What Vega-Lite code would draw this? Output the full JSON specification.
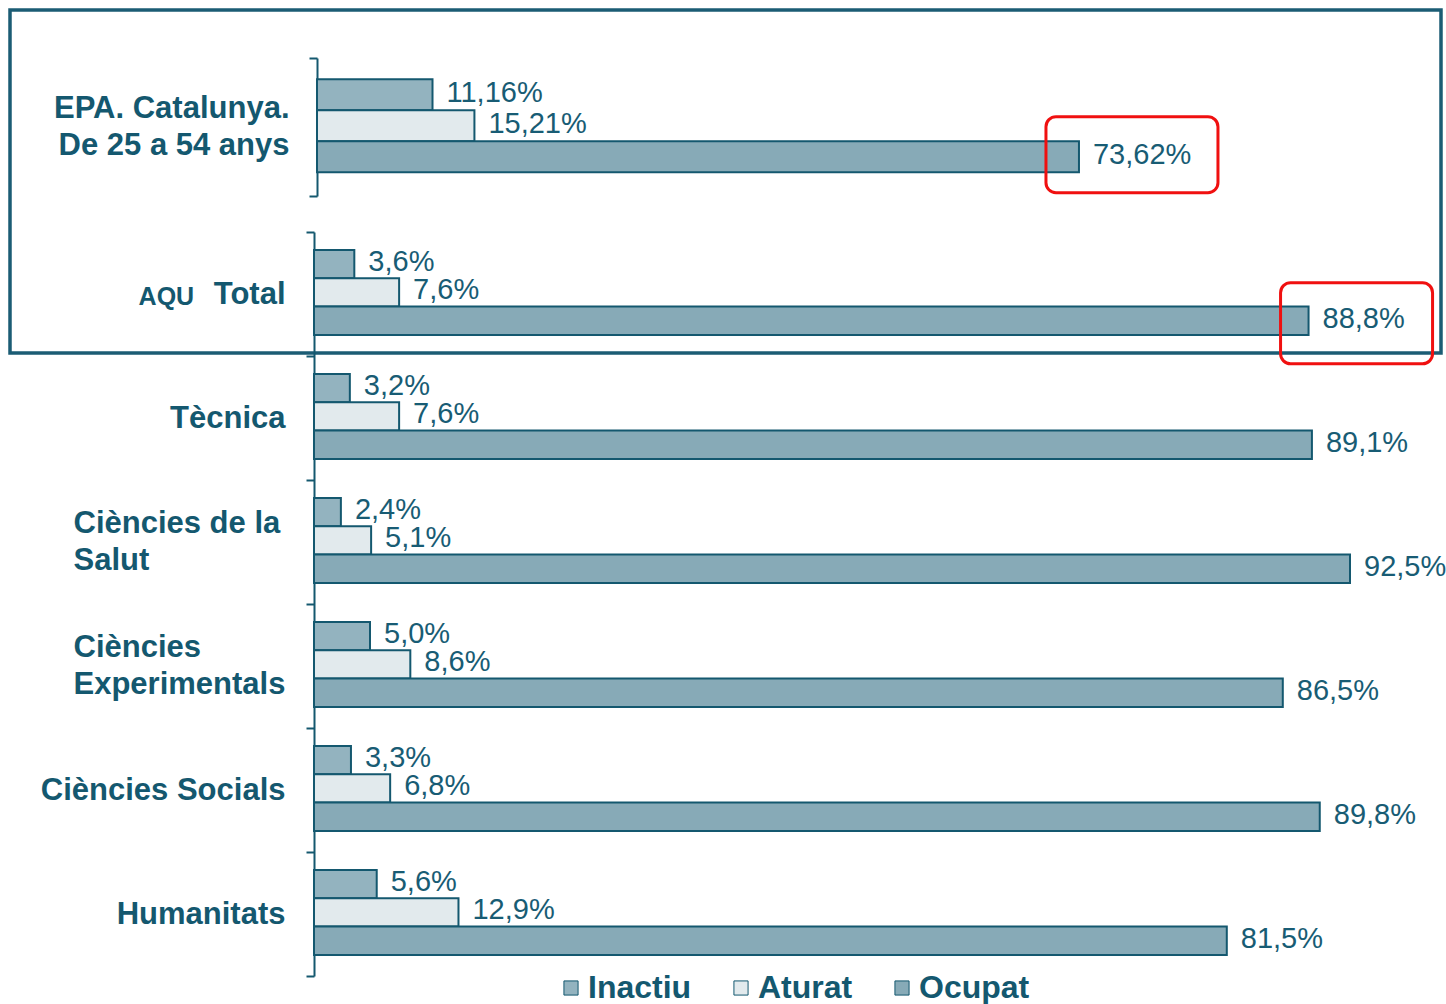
{
  "$schema": "https://vega.github.io/schema/vega-lite/v6.json",
  "autosize": {"type": "none"},
  "padding": {"left": 10, "top": 10, "right": 5, "bottom": 651},
  "width": 1431,
  "height": 343,
  "config": {
    "font": "Liberation Sans",
    "view": {"stroke": "#1b5c74", "strokeWidth": 3.5},
    "axis": {
      "domainColor": "#14586f",
      "domainWidth": 2,
      "tickColor": "#14586f",
      "tickWidth": 2,
      "tickSize": 8,
      "labelFont": "Liberation Sans",
      "labelFontWeight": "bold",
      "labelFontSize": 31,
      "labelColor": "#14586f",
      "labelLineHeight": 37,
      "labelLimit": 400,
      "title": null
    }
  },
  "datasets": {
    "rows": [
      {"cat": "EPA. Catalunya. De 25 a 54 anys", "serie": "Inactiu", "val": 11.16, "label": "11,16%"},
      {"cat": "EPA. Catalunya. De 25 a 54 anys", "serie": "Aturat", "val": 15.21, "label": "15,21%"},
      {"cat": "EPA. Catalunya. De 25 a 54 anys", "serie": "Ocupat", "val": 73.62, "label": "73,62%"},
      {"cat": "AQU Total", "serie": "Inactiu", "val": 3.6, "label": "3,6%"},
      {"cat": "AQU Total", "serie": "Aturat", "val": 7.6, "label": "7,6%"},
      {"cat": "AQU Total", "serie": "Ocupat", "val": 88.8, "label": "88,8%"},
      {"cat": "Tècnica", "serie": "Inactiu", "val": 3.2, "label": "3,2%"},
      {"cat": "Tècnica", "serie": "Aturat", "val": 7.6, "label": "7,6%"},
      {"cat": "Tècnica", "serie": "Ocupat", "val": 89.1, "label": "89,1%"},
      {"cat": "Ciències de la Salut", "serie": "Inactiu", "val": 2.4, "label": "2,4%"},
      {"cat": "Ciències de la Salut", "serie": "Aturat", "val": 5.1, "label": "5,1%"},
      {"cat": "Ciències de la Salut", "serie": "Ocupat", "val": 92.5, "label": "92,5%"},
      {"cat": "Ciències Experimentals", "serie": "Inactiu", "val": 5.0, "label": "5,0%"},
      {"cat": "Ciències Experimentals", "serie": "Aturat", "val": 8.6, "label": "8,6%"},
      {"cat": "Ciències Experimentals", "serie": "Ocupat", "val": 86.5, "label": "86,5%"},
      {"cat": "Ciències Socials", "serie": "Inactiu", "val": 3.3, "label": "3,3%"},
      {"cat": "Ciències Socials", "serie": "Aturat", "val": 6.8, "label": "6,8%"},
      {"cat": "Ciències Socials", "serie": "Ocupat", "val": 89.8, "label": "89,8%"},
      {"cat": "Humanitats", "serie": "Inactiu", "val": 5.6, "label": "5,6%"},
      {"cat": "Humanitats", "serie": "Aturat", "val": 12.9, "label": "12,9%"},
      {"cat": "Humanitats", "serie": "Ocupat", "val": 81.5, "label": "81,5%"}
    ]
  },
  "data": {"name": "rows"},
  "layer": [
    {
      "transform": [{"filter": "datum.cat == 'EPA. Catalunya. De 25 a 54 anys'"}],
      "encoding": {
        "y": {
          "field": "cat", "type": "nominal",
          "scale": {"range": [48, 186], "paddingInner": 0, "paddingOuter": 0},
          "axis": {
            "orient": "left", "offset": -307, "tickBand": "extent", "labelPadding": 20, "labelOffset": -19,
            "labelExpr": "datum.value == 'EPA. Catalunya. De 25 a 54 anys' ? ['EPA. Catalunya.', 'De 25 a 54 anys'] : ''"
          }
        },
        "yOffset": {"field": "serie", "type": "nominal", "sort": ["Inactiu", "Aturat", "Ocupat"], "scale": {"paddingInner": 0, "paddingOuter": 0.726, "align": 0.47}},
        "x": {"field": "val", "type": "quantitative", "scale": {"domain": [0, 100], "range": [307, 1342]}, "axis": null}
      },
      "layer": [
        {
          "mark": {"type": "bar", "stroke": "#14586f", "strokeWidth": 2},
          "encoding": {
            "color": {
              "field": "serie", "type": "nominal",
              "scale": {"domain": ["Inactiu", "Aturat", "Ocupat"], "range": ["#93b3bf", "#e2eaed", "#87aab7"]},
              "legend": {
                "orient": "none", "legendX": 545, "legendY": 962, "direction": "horizontal",
                "title": null, "symbolType": "square", "symbolSize": 200,
                "symbolStrokeColor": "#14586f", "symbolStrokeWidth": 1, "symbolOpacity": 1,
                "labelFont": "Liberation Sans", "labelFontWeight": "bold", "labelFontSize": 32,
                "labelColor": "#14586f", "labelOffset": 1, "columnPadding": 33, "labelLimit": 300
              }
            }
          }
        },
        {
          "mark": {"type": "text", "align": "left", "baseline": "middle", "dx": 14, "dy": -2, "fontSize": 29, "color": "#185c74", "font": "Liberation Sans"},
          "encoding": {"text": {"field": "label"}}
        },
        {
          "transform": [{"filter": "datum.serie == 'Ocupat'"}],
          "mark": {
            "type": "point", "filled": false, "opacity": 1, "size": 4, "strokeWidth": 3, "color": "#f01010",
            "shape": "M-23,-40 H129 A10,10 0 0 1 139,-30 V26 A10,10 0 0 1 129,36 H-23 A10,10 0 0 1 -33,26 V-30 A10,10 0 0 1 -23,-40 Z"
          },
          "encoding": {}
        }
      ]
    },
    {
      "transform": [{"filter": "datum.cat != 'EPA. Catalunya. De 25 a 54 anys'"}],
      "encoding": {
        "y": {
          "field": "cat", "type": "nominal",
          "sort": ["AQU Total", "Tècnica", "Ciències de la Salut", "Ciències Experimentals", "Ciències Socials", "Humanitats"],
          "scale": {"range": [222, 966], "paddingInner": 0, "paddingOuter": 0},
          "axis": {
            "orient": "left", "offset": -304, "tickBand": "extent",
            "labelPadding": {"condition": {"test": "datum.value == 'Ciències de la Salut' || datum.value == 'Ciències Experimentals'", "value": 233}, "value": 21},
            "labelAlign": {"condition": {"test": "datum.value == 'Ciències de la Salut' || datum.value == 'Ciències Experimentals'", "value": "left"}, "value": "right"},
            "labelOffset": {"condition": {"test": "datum.value == 'Ciències de la Salut' || datum.value == 'Ciències Experimentals'", "value": -19}, "value": 0},
            "labelExpr": "datum.value == 'Ciències de la Salut' ? ['Ciències de la', 'Salut'] : datum.value == 'Ciències Experimentals' ? ['Ciències', 'Experimentals'] : datum.value == 'AQU Total' ? 'Total' : datum.value"
          }
        },
        "x": {"field": "val", "type": "quantitative", "scale": {"domain": [0, 100], "range": [304, 1424]}, "axis": null}
      },
      "layer": [
        {
          "mark": {"type": "bar", "stroke": "#14586f", "strokeWidth": 2},
          "encoding": {
            "color": {"field": "serie", "type": "nominal"},
            "yOffset": {"field": "serie", "type": "nominal", "sort": ["Inactiu", "Aturat", "Ocupat"], "scale": {"paddingInner": 0, "paddingOuter": 0.69, "align": 0.46}}
          }
        },
        {
          "mark": {"type": "text", "align": "left", "baseline": "middle", "dx": 14, "dy": -2, "fontSize": 29, "color": "#185c74", "font": "Liberation Sans"},
          "encoding": {
            "text": {"field": "label"},
            "yOffset": {"field": "serie", "type": "nominal", "sort": ["Inactiu", "Aturat", "Ocupat"]}
          }
        },
        {
          "transform": [{"filter": "datum.serie == 'Ocupat' && datum.cat == 'AQU Total'"}],
          "mark": {
            "type": "point", "filled": false, "opacity": 1, "size": 4, "strokeWidth": 3, "color": "#f01010",
            "shape": "M-18,-38 H114 A10,10 0 0 1 124,-28 V33 A10,10 0 0 1 114,43 H-18 A10,10 0 0 1 -28,33 V-28 A10,10 0 0 1 -18,-38 Z"
          },
          "encoding": {
            "yOffset": {"field": "serie", "type": "nominal", "sort": ["Inactiu", "Aturat", "Ocupat"]}
          }
        },
        {
          "transform": [{"filter": "datum.serie == 'Ocupat' && datum.cat == 'AQU Total'"}],
          "mark": {"type": "text", "text": "AQU", "align": "right", "baseline": "alphabetic", "dy": 11, "fontSize": 25, "fontWeight": "bold", "color": "#14586f", "font": "Liberation Sans"},
          "encoding": {"x": {"datum": -10.7}}
        }
      ]
    }
  ],
  "resolve": {"scale": {"x": "independent", "y": "independent", "yOffset": "independent"}}
}
